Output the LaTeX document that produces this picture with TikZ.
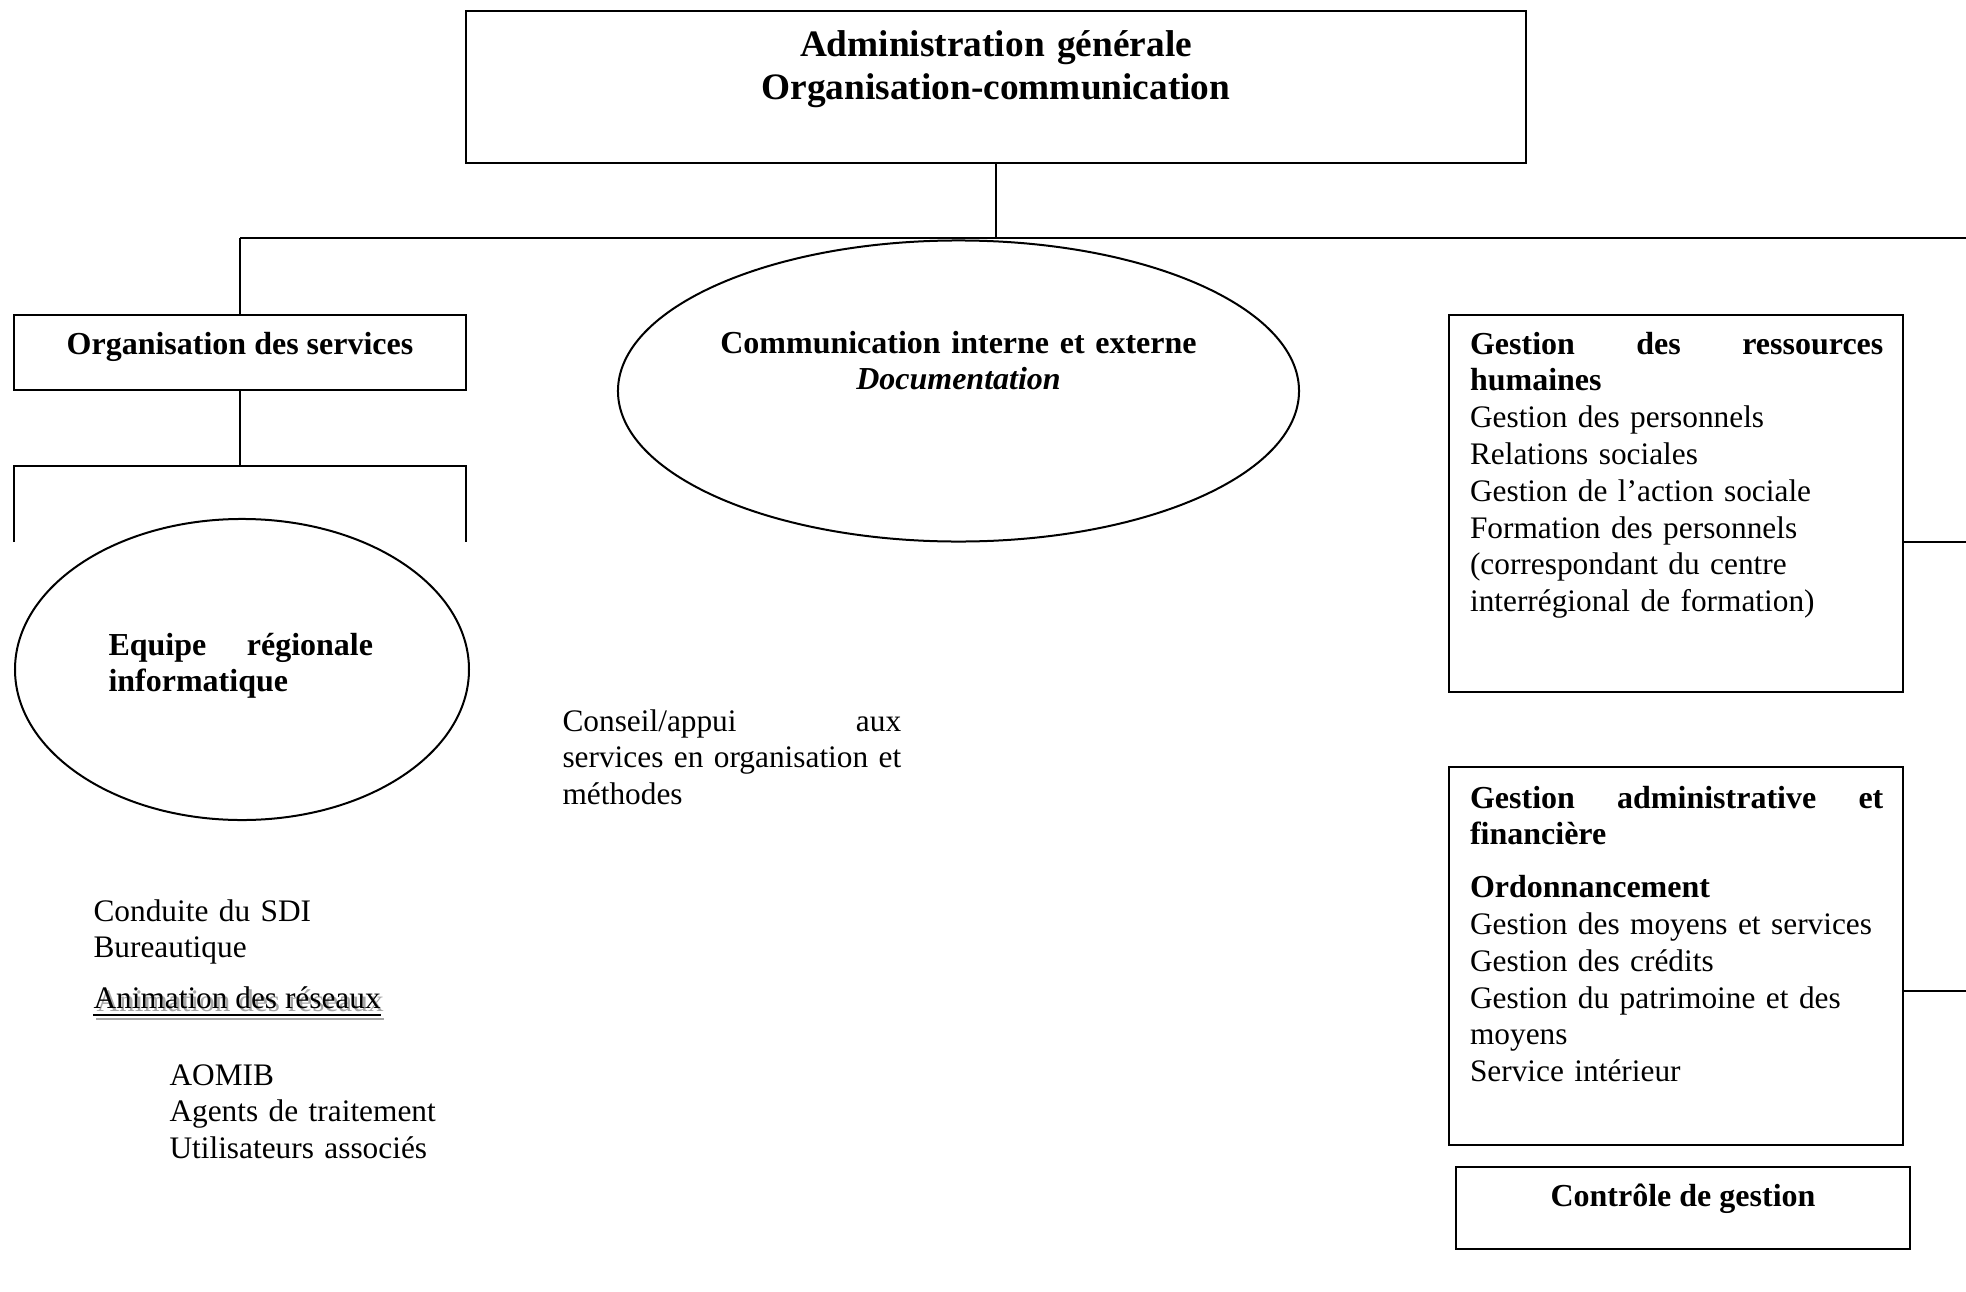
\documentclass[tikz,border=0pt]{standalone}
\usepackage{fontspec}
\setmainfont{Liberation Serif}
\usetikzlibrary{shapes.geometric,fit,calc}
\begin{document}
\begin{tikzpicture}[x=0.375pt,y=-0.375pt,
  line/.style={line width=0.75pt},
  box/.style={draw,line width=0.75pt,inner sep=0pt,rectangle},
  oval/.style={draw,line width=0.75pt,ellipse,inner sep=0pt},
  txt/.style={inner sep=0pt,font=\fontsize{11.75}{13.8}\selectfont},
  btxt/.style={inner sep=0pt,font=\fontsize{12}{13.8}\selectfont\bfseries},
  para/.style={txt,anchor=base west,align=left},
]
\useasboundingbox (0,0) rectangle (1966,1292);

% top box
\node[box, fit={(466,11)(1526,163)}] (admin) {};
\node[btxt, font=\fontsize{14}{16.1}\selectfont\bfseries, anchor=base, align=center, text width=250pt] (admintxt) at (996,57) {Administration générale\\Organisation-communication};

% bus
\coordinate (bus) at (996,238);
\coordinate (busL) at (240,238);
\coordinate (busR) at (1966,238);
\draw[line] (admin.south) -- (bus);
\draw[line] (busL) -- (busR);

% organisation des services
\node[box, fit={(14,315)(466,390)}] (orgsv) {};
\node[btxt, anchor=base] (orgsvtxt) at (240,354) {Organisation des services};
\draw[line] (busL) -- (orgsv.north);
\coordinate (sub) at (240,466);
\coordinate (subL) at (14,466);
\coordinate (subR) at (466,466);
\coordinate (subLe) at (14,542);
\coordinate (subRe) at (466,542);
\draw[line] (orgsv.south) -- (sub);
\draw[line] (subLe) -- (subL) -- (subR) -- (subRe);

% equipe regionale informatique
\node[oval, minimum width=170.25pt, minimum height=112.9pt] (equipe) at (242,669.5) {};
\node[btxt, anchor=base west, align=left, text width=99.2pt] (equipetxt) at (108,655) {Equipe\hfill régionale\\informatique};

% communication
\node[oval, minimum width=255.4pt, minimum height=112.9pt] (comm) at (958.5,391) {};
\node[btxt, anchor=base, align=center, text width=200pt] (commtxt) at (958.5,353) {Communication interne et externe\\\itshape Documentation};

% conseil
\node[para, text width=127pt] (conseil) at (562,731) {Conseil/appui\hfill aux\\\mbox{services en organisation et}\\méthodes};

% left lists
\node[para, text width=150pt] (sdi) at (93,921) {Conduite du SDI\\Bureautique};
\node[txt, anchor=base west, text=gray!70] (animshadow) at (96,1011) {Animation des réseaux};
\node[txt, anchor=base west] (anim) at (93,1008) {Animation des réseaux};
\draw[gray!70, line width=0.6pt] ($(animshadow.base west)+(0,8)$) -- ($(animshadow.base east)+(0,8)$);
\draw[line width=0.6pt] ($(anim.base west)+(0,7)$) -- ($(anim.base east)+(0,7)$);
\node[para, text width=150pt] (aomib) at (169,1085) {AOMIB\\Agents de traitement\\Utilisateurs associés};

% GRH
\node[box, fit={(1449,315)(1903,692)}] (grh) {};
\node[para, text width=155pt] (grhtxt) at (1469.5,354) {\textbf{\fontsize{12}{13.8}\selectfont Gestion\hfill des\hfill ressources}\\\textbf{\fontsize{12}{13.8}\selectfont humaines}\\Gestion des personnels\\Relations sociales\\Gestion de l’action sociale\\Formation des personnels\\(correspondant du centre\\interrégional de formation)};
\coordinate (grhR) at (1966,542);
\draw[line] (grh.east |- grhR) -- (grhR);

% GAF
\node[box, fit={(1449,767)(1903,1145)}] (gaf) {};
\node[para, text width=155pt] (gaftxt) at (1469.5,808) {\textbf{\fontsize{12}{13.8}\selectfont Gestion\hfill administrative\hfill et}\\\textbf{\fontsize{12}{13.8}\selectfont financière}\\[6pt]\textbf{\fontsize{12}{13.8}\selectfont Ordonnancement}\\Gestion des moyens et services\\Gestion des crédits\\Gestion du patrimoine et des\\moyens\\Service intérieur};
\coordinate (gafR) at (1966,990.5);
\draw[line] (gaf.east |- gafR) -- (gafR);

% controle de gestion
\node[box, fit={(1456,1167)(1910,1249)}] (cdg) {};
\node[btxt, anchor=base] (cdgtxt) at (1683,1206) {Contrôle de gestion};
\end{tikzpicture}
\end{document}
